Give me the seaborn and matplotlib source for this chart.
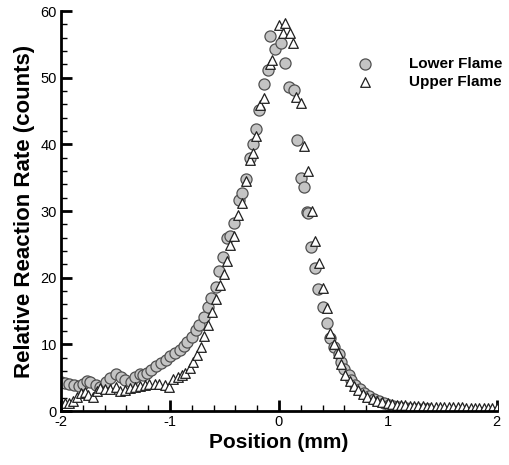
import numpy as np
import pandas as pd
import matplotlib
matplotlib.use("Agg")
import matplotlib.pyplot as plt
from matplotlib.ticker import MultipleLocator
import seaborn as sns

# Lower flame (circles)
lower_x = [-2.0, -1.96, -1.93, -1.88, -1.84, -1.80, -1.76, -1.73, -1.68, -1.64,
           -1.59, -1.55, -1.50, -1.45, -1.41, -1.36, -1.32, -1.28, -1.25, -1.21,
           -1.17, -1.13, -1.08, -1.04, -1.00, -0.95, -0.91, -0.87, -0.84, -0.80,
           -0.76, -0.73, -0.69, -0.65, -0.62, -0.58, -0.55, -0.51, -0.48, -0.45,
           -0.41, -0.37, -0.34, -0.30, -0.27, -0.24, -0.21, -0.18, -0.14, -0.10,
           -0.08, -0.04, 0.02, 0.06, 0.09, 0.14, 0.17, 0.20, 0.23, 0.26,
           0.27, 0.29, 0.33, 0.36, 0.40, 0.44, 0.47, 0.51, 0.55, 0.57,
           0.60, 0.64, 0.66, 0.70, 0.74, 0.78, 0.83, 0.87, 0.92, 0.96,
           1.01, 1.05, 1.09, 1.13, 1.17, 1.21, 1.25, 1.29, 1.33, 1.37]
lower_y = [4.35, 4.2, 4.05, 3.9, 3.75, 4.05, 4.5, 4.35, 3.9, 3.6,
           4.35, 4.95, 5.55, 5.1, 4.65, 4.35, 5.1, 5.55, 5.4, 5.7,
           6.15, 6.75, 7.2, 7.65, 8.25, 8.7, 9.15, 9.75, 10.35, 11.1,
           12.15, 12.9, 14.1, 15.6, 16.95, 18.6, 21.0, 23.1, 25.9, 26.25,
           28.2, 31.6, 32.7, 34.8, 37.9, 40.0, 42.3, 45.1, 49.0, 51.1,
           56.2, 54.3, 55.2, 52.2, 48.6, 48.1, 40.6, 35.0, 33.6, 29.8,
           29.7, 24.6, 21.45, 18.3, 15.6, 13.2, 11.0, 9.6, 8.55, 7.35,
           6.3, 5.4, 4.65, 3.9, 3.3, 2.7, 2.25, 1.8, 1.5, 1.2,
           0.9, 0.7, 0.55, 0.45, 0.4, 0.35, 0.3, 0.3, 0.25, 0.25]

# Upper flame (triangles)
upper_x = [-2.0, -1.96, -1.93, -1.89, -1.85, -1.82, -1.78, -1.75, -1.71, -1.67,
           -1.64, -1.60, -1.55, -1.50, -1.46, -1.41, -1.37, -1.32, -1.28, -1.23,
           -1.19, -1.14, -1.10, -1.05, -1.01, -0.97, -0.93, -0.89, -0.86, -0.82,
           -0.79, -0.75, -0.72, -0.69, -0.65, -0.61, -0.58, -0.54, -0.50, -0.48,
           -0.45, -0.41, -0.38, -0.34, -0.30, -0.27, -0.24, -0.21, -0.17, -0.14,
           -0.08, -0.06, 0.0, 0.04, 0.06, 0.10, 0.13, 0.16, 0.20, 0.23,
           0.27, 0.30, 0.33, 0.37, 0.40, 0.44, 0.47, 0.51, 0.54, 0.57,
           0.61, 0.65, 0.69, 0.73, 0.77, 0.81, 0.86, 0.90, 0.95, 1.00,
           1.04, 1.08, 1.12, 1.16, 1.20, 1.24, 1.28, 1.32, 1.36, 1.40,
           1.44, 1.48, 1.52, 1.56, 1.60, 1.64, 1.68, 1.72, 1.76, 1.80,
           1.84, 1.88, 1.92, 1.96, 2.0]
upper_y = [1.2, 1.2, 1.2, 1.5, 2.1, 2.7, 2.85, 2.4, 2.1, 3.0,
           3.45, 3.3, 3.3, 3.6, 3.0, 3.15, 3.45, 3.6, 3.75, 3.9,
           4.05, 4.05, 4.05, 3.9, 3.6, 4.8, 5.1, 5.4, 5.7, 6.45,
           7.35, 8.4, 9.6, 11.25, 12.9, 14.85, 16.8, 18.9, 20.55, 22.5,
           24.9, 26.25, 29.4, 31.2, 34.5, 37.65, 38.7, 41.25, 45.9, 46.95,
           52.05, 52.65, 57.9, 56.7, 58.2, 56.7, 55.2, 47.1, 46.2, 39.75,
           36.0, 30.0, 25.5, 22.2, 18.45, 15.45, 11.7, 10.05, 8.7, 7.05,
           5.4, 4.5, 3.75, 3.15, 2.55, 2.1, 1.8, 1.5, 1.35, 1.2,
           1.05, 0.95, 0.9, 0.85, 0.8, 0.75, 0.7, 0.7, 0.65, 0.65,
           0.6, 0.6, 0.6, 0.55, 0.55, 0.55, 0.55, 0.5, 0.5, 0.5,
           0.5, 0.5, 0.5, 0.5, 0.5]

sns.set_style("white")
plt.rcParams['font.family'] = ['Liberation Sans', 'DejaVu Sans']
plt.rcParams['axes.unicode_minus'] = False
plt.rcParams['text.color'] = 'black'
plt.rcParams['axes.labelcolor'] = 'black'
plt.rcParams['xtick.color'] = 'black'
plt.rcParams['ytick.color'] = 'black'

fig = plt.figure(figsize=(5.09, 4.65), dpi=100)
ax = fig.add_axes([0.12, 0.116, 0.856, 0.86])

sns.scatterplot(x=lower_x, y=lower_y, ax=ax, marker='o', s=64,
                color='#c4c4c4', edgecolor='#505050', linewidth=0.9,
                label='Lower Flame')
sns.scatterplot(x=upper_x, y=upper_y, ax=ax, marker='^', s=48,
                color='white', edgecolor='#202020', linewidth=0.9,
                label='Upper Flame')

ax.set_xlim(-2, 2)
ax.set_ylim(0, 60)
ax.xaxis.set_major_locator(MultipleLocator(1))
ax.xaxis.set_minor_locator(MultipleLocator(0.2))
ax.yaxis.set_major_locator(MultipleLocator(10))
ax.yaxis.set_minor_locator(MultipleLocator(2))
ax.tick_params(which='major', direction='in', length=8, width=2, labelsize=10.5, pad=3)
ax.tick_params(which='minor', direction='in', length=4, width=1)
ax.tick_params(bottom=True, left=True, top=False, right=False)
ax.tick_params(which='minor', bottom=True, left=True)
for s in ['top', 'right']:
    ax.spines[s].set_visible(False)
for s in ['left', 'bottom']:
    ax.spines[s].set_linewidth(2)
    ax.spines[s].set_color('black')

ax.set_xlabel('Position (mm)', fontsize=15, fontweight='bold', labelpad=3)
ax.set_ylabel('Relative Reaction Rate (counts)', fontsize=16, fontweight='bold', labelpad=4)

leg = ax.legend(loc='upper right', bbox_to_anchor=(1.045, 0.92), frameon=False,
                prop={'weight': 'bold', 'size': 11}, handletextpad=1.9,
                labelspacing=0.3)

fig.savefig('out.png', dpi=100)
